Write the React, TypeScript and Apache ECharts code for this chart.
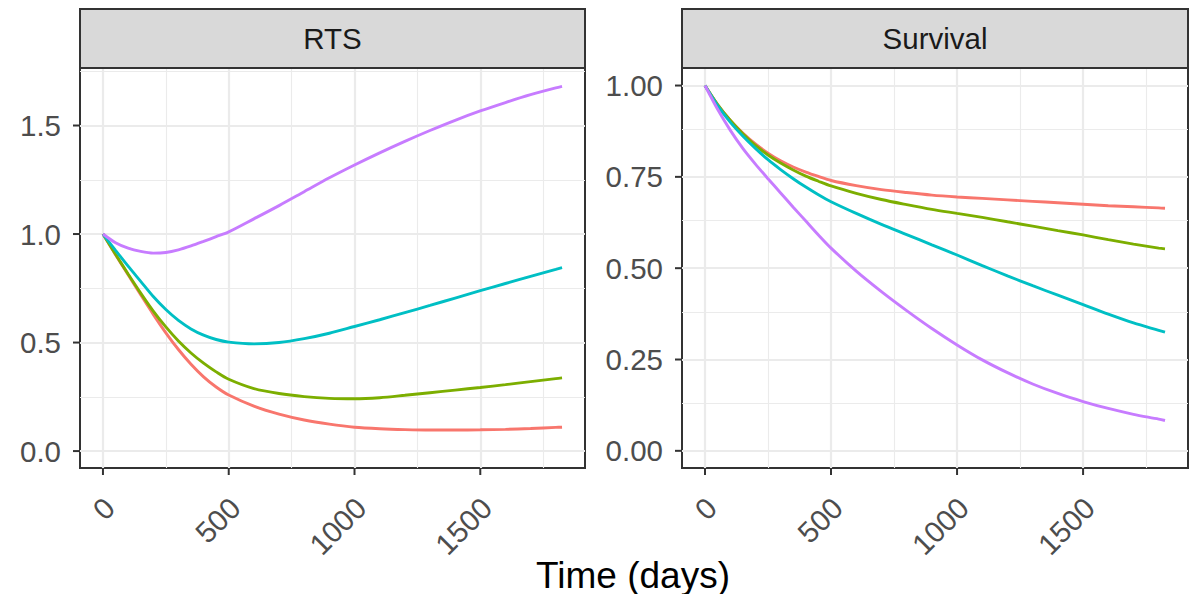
import React, { useEffect, useRef } from "react";
import * as echarts from "echarts";

// Time grid (days) shared by all curves
const timePoints = [0, 50, 100, 150, 200, 250, 300, 350, 400, 450, 500, 600, 700, 800, 900, 1000, 1100, 1200, 1300, 1400, 1500, 1600, 1700, 1800, 1825];

// RTS panel
const rtsRed = [1.0, 0.905, 0.812, 0.72, 0.63, 0.545, 0.468, 0.4, 0.342, 0.295, 0.258, 0.207, 0.17, 0.143, 0.124, 0.11, 0.103, 0.099, 0.097, 0.097, 0.098, 0.1, 0.104, 0.109, 0.11];
const rtsGreen = [1.0, 0.907, 0.816, 0.728, 0.645, 0.572, 0.507, 0.452, 0.405, 0.365, 0.331, 0.288, 0.265, 0.251, 0.243, 0.241, 0.246, 0.257, 0.269, 0.281, 0.293, 0.306, 0.32, 0.334, 0.337];
const rtsCyan = [1.0, 0.925, 0.852, 0.782, 0.712, 0.652, 0.602, 0.563, 0.534, 0.514, 0.502, 0.494, 0.5, 0.518, 0.543, 0.574, 0.605, 0.638, 0.671, 0.705, 0.739, 0.772, 0.805, 0.837, 0.845];
const rtsPurple = [1.0, 0.96, 0.935, 0.92, 0.912, 0.915, 0.927, 0.945, 0.966, 0.988, 1.01, 1.07, 1.131, 1.195, 1.259, 1.318, 1.374, 1.427, 1.477, 1.524, 1.567, 1.606, 1.642, 1.673, 1.68];

// Survival panel
const survRed = [1.0, 0.948, 0.905, 0.87, 0.84, 0.815, 0.794, 0.777, 0.763, 0.751, 0.74, 0.726, 0.715, 0.707, 0.7, 0.695, 0.691, 0.687, 0.683, 0.679, 0.675, 0.671, 0.668, 0.665, 0.664];
const survGreen = [1.0, 0.948, 0.905, 0.868, 0.836, 0.81, 0.788, 0.769, 0.752, 0.738, 0.725, 0.705, 0.688, 0.674, 0.661, 0.65, 0.639, 0.627, 0.615, 0.603, 0.591, 0.578, 0.566, 0.555, 0.553];
const survCyan = [1.0, 0.945, 0.9, 0.862, 0.828, 0.797, 0.77, 0.745, 0.722, 0.701, 0.682, 0.65, 0.62, 0.592, 0.564, 0.536, 0.507, 0.479, 0.452, 0.426, 0.4, 0.374, 0.35, 0.33, 0.325];
const survPurple = [1.0, 0.935, 0.878, 0.828, 0.785, 0.745, 0.706, 0.667, 0.629, 0.591, 0.555, 0.492, 0.436, 0.384, 0.335, 0.29, 0.249, 0.214, 0.183, 0.157, 0.135, 0.116, 0.1, 0.087, 0.083];

const groupNames = ["Group 1", "Group 2", "Group 3", "Group 4"];
const groupColors = ["#F8766D", "#7CAE00", "#00BFC4", "#C77CFF"];

const panelTitles = ["RTS", "Survival"];
const xTicks = [0, 500, 1000, 1500];
const xMinorTicks = [250, 750, 1250, 1750];
const rtsTicks = [0, 0.5, 1.0, 1.5];
const rtsMinorTicks = [0.25, 0.75, 1.25, 1.75];
const survTicks = [0, 0.25, 0.5, 0.75, 1.0];
const survMinorTicks = [0.125, 0.375, 0.625, 0.875];

const FONT = "Liberation Sans, Arial, Helvetica, sans-serif";

const pairs = (ys: number[]) => timePoints.map((t, i) => [t, ys[i]]);

export default function App() {
  const ref = useRef<HTMLDivElement>(null);

  useEffect(() => {
    if (!ref.current) return;
    const chart = echarts.init(ref.current, undefined, { renderer: "svg" });

    const panels = [
      { left: 80, width: 505, ymin: -0.078, ymax: 1.765, ticks: rtsTicks, minor: rtsMinorTicks, digits: 1, sets: [rtsRed, rtsGreen, rtsCyan, rtsPurple] },
      { left: 682, width: 506, ymin: -0.047, ymax: 1.048, ticks: survTicks, minor: survMinorTicks, digits: 2, sets: [survRed, survGreen, survCyan, survPurple] },
    ];
    const top = 68;
    const height = 400;
    const tickLen = 7;
    const frame = { color: "#333333", width: 2 };

    const grid = panels.map((p) => ({
      left: p.left,
      top,
      width: p.width,
      height,
      show: true,
      backgroundColor: "#FFFFFF",
      borderColor: "#333333",
      borderWidth: 2,
      containLabel: false,
    }));

    const xAxis = panels.map((_, i) => ({
      type: "value",
      gridIndex: i,
      min: -91.25,
      max: 1916.25,
      position: "bottom",
      axisLine: { show: true, onZero: false, lineStyle: frame },
      splitLine: { show: false },
      axisTick: { show: false },
      axisLabel: {
        show: true,
        customValues: xTicks,
        rotate: 45,
        align: "right",
        verticalAlign: "top",
        margin: 20,
        padding: [0, 6, 0, 0],
        fontSize: 29.5,
        fontFamily: FONT,
        color: "#4D4D4D",
        formatter: (v: number) => String(v),
      },
    }));

    const yAxis = panels.map((p, i) => ({
      type: "value",
      gridIndex: i,
      min: p.ymin,
      max: p.ymax,
      position: "left",
      axisLine: { show: true, onZero: false, lineStyle: frame },
      splitLine: { show: false },
      axisTick: { show: false },
      axisLabel: {
        show: true,
        customValues: p.ticks,
        margin: 19,
        fontSize: 29.5,
        fontFamily: FONT,
        color: "#4D4D4D",
        formatter: (v: number) => v.toFixed(p.digits),
      },
    }));

    const series: any[] = [];
    panels.forEach((p, i) => {
      const gridLines = [
        ...xMinorTicks.map((v) => ({ xAxis: v, lineStyle: { width: 1.1 } })),
        ...p.minor.map((v) => ({ yAxis: v, lineStyle: { width: 1.1 } })),
        ...xTicks.map((v) => ({ xAxis: v, lineStyle: { width: 2.2 } })),
        ...p.ticks.map((v) => ({ yAxis: v, lineStyle: { width: 2.2 } })),
      ];
      series.push({
        type: "line",
        name: "grid" + i,
        xAxisIndex: i,
        yAxisIndex: i,
        data: [[0, p.sets[0][0]]],
        symbol: "none",
        lineStyle: { opacity: 0 },
        silent: true,
        z: 1,
        markLine: {
          silent: true,
          symbol: ["none", "none"],
          label: { show: false },
          lineStyle: { color: "#EBEBEB", type: "solid" },
          z: 1,
          data: gridLines,
        },
      });
      p.sets.forEach((ys, k) => {
        series.push({
          type: "line",
          name: groupNames[k],
          xAxisIndex: i,
          yAxisIndex: i,
          data: pairs(ys),
          symbol: "none",
          smooth: 0.3,
          z: 3,
          lineStyle: { color: groupColors[k], width: 2.9 },
          itemStyle: { color: groupColors[k] },
        });
      });
    });

    const graphic: any[] = [];
    panels.forEach((p, i) => {
      graphic.push({
        type: "rect",
        shape: { x: p.left, y: 9, width: p.width, height: 59 },
        style: { fill: "#D9D9D9", stroke: "#333333", lineWidth: 2 },
        z: 10,
      });
      graphic.push({
        type: "text",
        x: p.left + p.width / 2,
        y: 38.5,
        style: {
          text: panelTitles[i],
          fill: "#1A1A1A",
          fontSize: 29.5,
          fontFamily: FONT,
          textAlign: "center",
          textVerticalAlign: "middle",
        },
        z: 11,
      });
    });
    graphic.push({
      type: "text",
      x: 633,
      y: 575,
      style: {
        text: "Time (days)",
        fill: "#000000",
        fontSize: 37,
        fontFamily: FONT,
        textAlign: "center",
        textVerticalAlign: "middle",
      },
      z: 11,
    });

    chart.setOption({
      animation: false,
      backgroundColor: "#FFFFFF",
      textStyle: { fontFamily: FONT },
      grid,
      xAxis,
      yAxis,
      series,
      graphic,
    });

    // Tick marks placed through each axis' own scale
    const bottom = top + height;
    panels.forEach((p, i) => {
      xTicks.forEach((v) => {
        const px = chart.convertToPixel({ xAxisIndex: i }, v) as number;
        graphic.push({
          type: "line",
          shape: { x1: px, y1: bottom, x2: px, y2: bottom + tickLen },
          style: { stroke: "#333333", lineWidth: 2 },
          z: 12,
        });
      });
      p.ticks.forEach((v) => {
        const py = chart.convertToPixel({ yAxisIndex: i }, v) as number;
        graphic.push({
          type: "line",
          shape: { x1: p.left - tickLen, y1: py, x2: p.left, y2: py },
          style: { stroke: "#333333", lineWidth: 2 },
          z: 12,
        });
      });
    });
    chart.setOption({ graphic }, { replaceMerge: ["graphic"] });

    return () => chart.dispose();
  }, []);

  return (
    <div
      ref={ref}
      style={{ position: "fixed", left: 0, top: 0, width: 1191, height: 594, background: "#FFFFFF" }}
    />
  );
}
